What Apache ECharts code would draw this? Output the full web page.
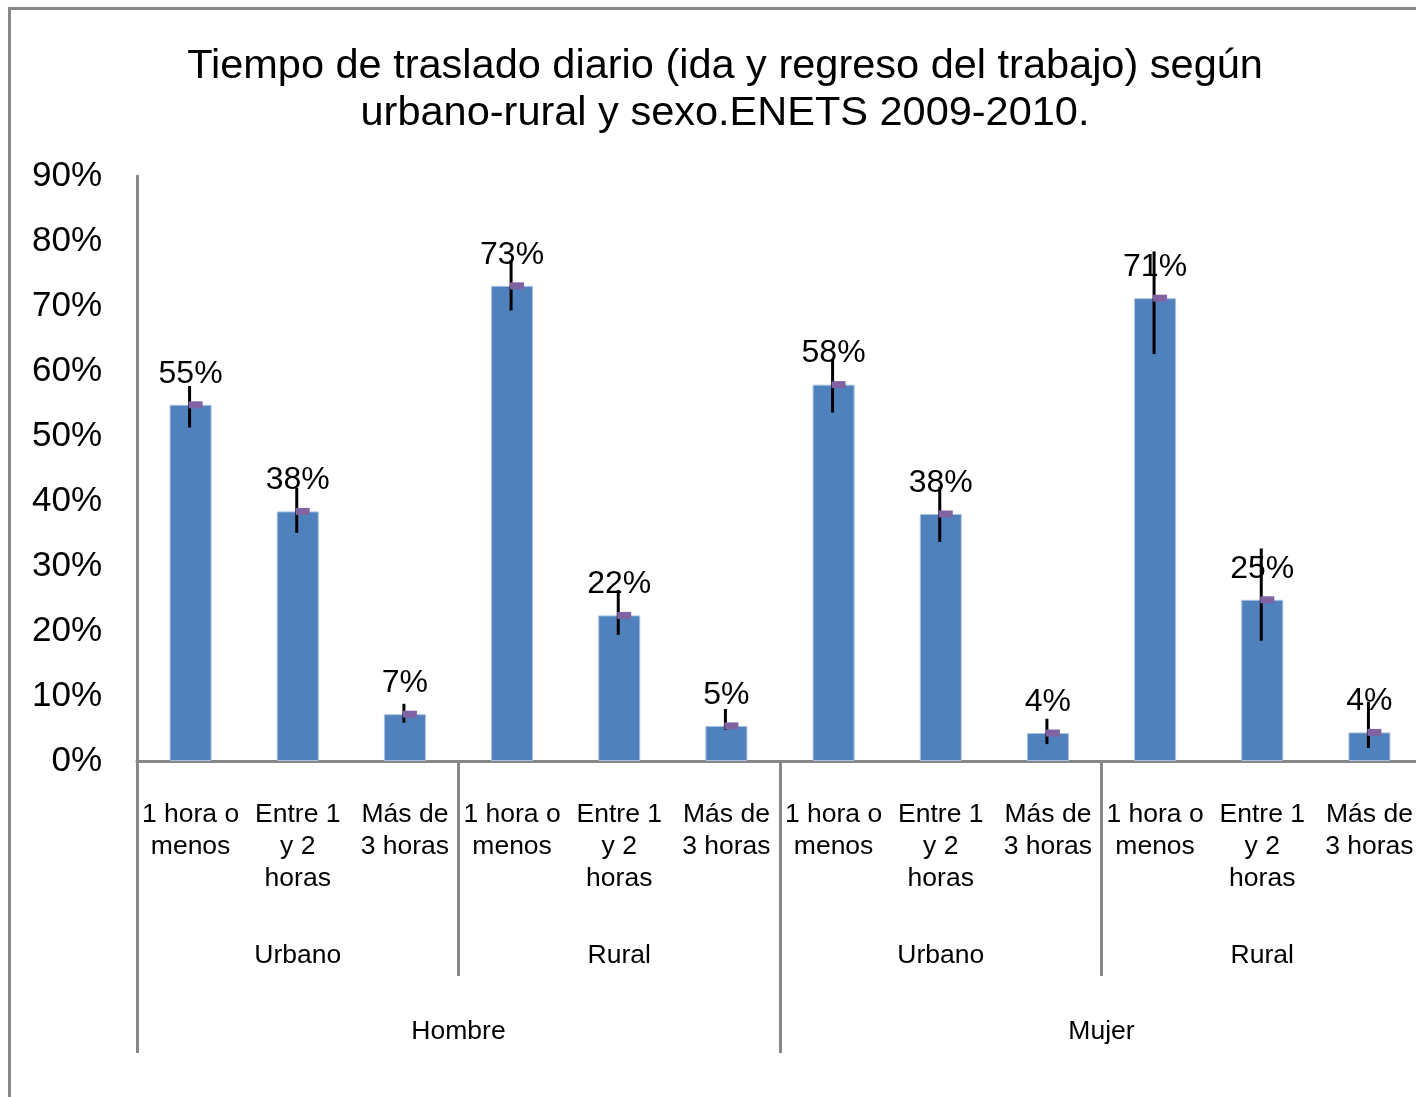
<!DOCTYPE html>
<html>
<head>
<meta charset="utf-8">
<script src="https://cdn.jsdelivr.net/npm/echarts@6/dist/echarts.min.js"></script>
<style>
  html, body { margin: 0; padding: 0; background: #fff; overflow: hidden; }
  #chart { position: absolute; left: 0; top: 0; width: 1416px; height: 1097px; }
  #frame { position: absolute; left: 8px; top: 7px; width: 1600px; height: 1300px;
           border: 3px solid #878787; box-sizing: border-box; pointer-events: none; }
</style>
</head>
<body>
<div id="chart"></div>
<div id="frame"></div>
<script>
// ---- data ----
const titleText = 'Tiempo de traslado diario (ida y regreso del trabajo) según\nurbano-rural y sexo.ENETS 2009-2010.';
const timeCategories = [
  '1 hora o\nmenos', 'Entre 1\ny 2\nhoras', 'Más de\n3 horas',
  '1 hora o\nmenos', 'Entre 1\ny 2\nhoras', 'Más de\n3 horas',
  '1 hora o\nmenos', 'Entre 1\ny 2\nhoras', 'Más de\n3 horas',
  '1 hora o\nmenos', 'Entre 1\ny 2\nhoras', 'Más de\n3 horas'
];
const areaCategories = ['Urbano', 'Rural', 'Urbano', 'Rural'];
const sexCategories = ['Hombre', 'Mujer'];
const percentValues = [54.8, 38.4, 7.2, 73.1, 22.4, 5.4, 57.9, 38.0, 4.3, 71.2, 24.8, 4.4];
const errorUpper   = [57.7, 42.0, 8.8, 77.1, 26.3, 8.0, 61.9, 42.2, 6.5, 78.4, 32.7, 9.1];
const errorLower   = [51.3, 35.1, 5.9, 69.3, 19.4, 4.8, 53.6, 33.7, 2.6, 62.6, 18.5, 2.0];
const yTicks = { min: 0, max: 90, interval: 10 };

// ---- chart ----
const FONT = 'Liberation Sans, Arial, sans-serif';
const AXIS_GRAY = '#878787';
const chart = echarts.init(document.getElementById('chart'), null, { renderer: 'canvas' });

const errorData = percentValues.map((v, i) => [i, errorUpper[i], errorLower[i], v]);

const option = {
  backgroundColor: 'transparent',
  animation: false,
  title: {
    text: titleText,
    left: 720,
    top: 38,
    textAlign: 'center',
    textStyle: { fontFamily: FONT, fontSize: 41.5, fontWeight: 'normal', color: '#000', lineHeight: 47 }
  },
  grid: {
    left: 137, right: -7, top: 176, bottom: 336,
    containLabel: false, outerBoundsMode: 'none'
  },
  xAxis: [
    {
      type: 'category',
      data: timeCategories,
      position: 'bottom',
      axisLine: { show: true, lineStyle: { color: AXIS_GRAY, width: 3 } },
      axisTick: { show: false },
      axisLabel: {
        interval: 0, margin: 38, color: '#000', fontFamily: FONT, fontSize: 26.5, lineHeight: 32,
        align: 'center'
      }
    },
    {
      type: 'category',
      data: areaCategories,
      position: 'bottom',
      axisLine: { show: false },
      axisTick: { show: true, interval: 0, length: 215, lineStyle: { color: AXIS_GRAY, width: 3 } },
      axisLabel: { interval: 0, margin: 179, color: '#000', fontFamily: FONT, fontSize: 26.5, lineHeight: 32 }
    },
    {
      type: 'category',
      data: sexCategories,
      position: 'bottom',
      axisLine: { show: false },
      axisTick: { show: true, interval: 0, length: 292, lineStyle: { color: AXIS_GRAY, width: 3 } },
      axisLabel: { interval: 0, margin: 255, color: '#000', fontFamily: FONT, fontSize: 26.5, lineHeight: 32 }
    }
  ],
  yAxis: {
    type: 'value',
    min: yTicks.min, max: yTicks.max, interval: yTicks.interval,
    axisLine: { show: true, lineStyle: { color: AXIS_GRAY, width: 3 } },
    axisTick: { show: false },
    splitLine: { show: false },
    axisLabel: { formatter: '{value}%', margin: 35, color: '#000', fontFamily: FONT, fontSize: 35 }
  },
  series: [
    {
      type: 'bar',
      xAxisIndex: 0,
      data: percentValues,
      barWidth: 42,
      itemStyle: { color: '#4F81BD', borderColor: '#A9C1E0', borderWidth: 1 },
      label: {
        show: true, position: 'top', distance: 15,
        formatter: p => Math.round(p.value) + '%',
        color: '#000', fontFamily: FONT, fontSize: 32
      },
      z: 2
    },
    {
      type: 'custom',
      xAxisIndex: 0,
      data: errorData,
      encode: { x: 0, y: [1, 2] },
      z: 10,
      renderItem: function (params, api) {
        const idx = api.value(0);
        const top = api.coord([idx, api.value(1)]);
        const bot = api.coord([idx, api.value(2)]);
        const mid = api.coord([idx, api.value(3)]);
        return {
          type: 'group',
          children: [
            { type: 'line', shape: { x1: mid[0] - 1, y1: top[1], x2: mid[0] - 1, y2: bot[1] },
              style: { stroke: '#000', lineWidth: 3 } },
            { type: 'rect', shape: { x: mid[0] - 2, y: mid[1] - 3.5, width: 14, height: 7 },
              style: { fill: '#8064A2' } }
          ]
        };
      }
    }
  ]
};
chart.setOption(option);
</script>
</body>
</html>
